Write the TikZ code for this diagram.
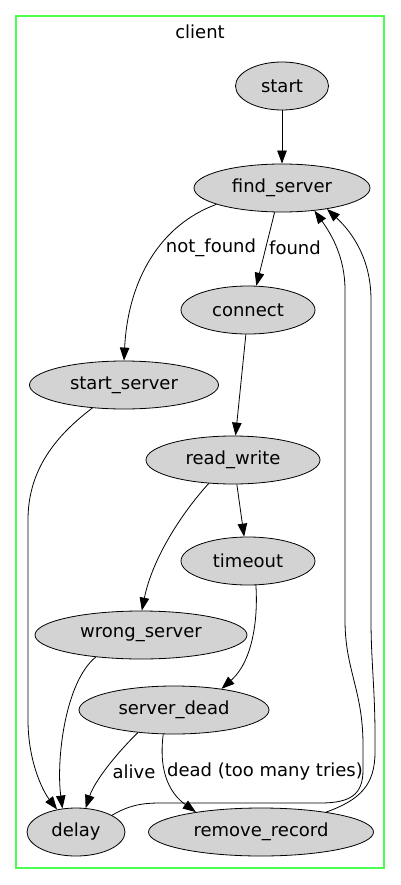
\documentclass[tikz,border=0pt]{standalone}
\usepackage{fontspec}
\setmainfont{DejaVu Sans}
\usetikzlibrary{shapes.geometric,arrows.meta}
\definecolor{nodegray}{HTML}{D3D3D3}
\definecolor{clustergreen}{RGB}{76,255,76}
\begin{document}
\begin{tikzpicture}[x=1pt,y=-1pt,
  state/.style={ellipse,draw=black,fill=nodegray,line width=0.8pt,minimum height=48pt,inner sep=0pt,font=\fontsize{18}{20}\selectfont},
  edge/.style={-{Triangle[length=13pt,width=9.5pt]},line width=0.8pt},
  elabel/.style={font=\fontsize{18}{20}\selectfont,inner sep=0pt},
  cluster/.style={draw=clustergreen,line width=1.6pt}]
\useasboundingbox (0,0) rectangle (400,885);
\draw[cluster] (16,16) rectangle (384,868);
\node[elabel] (cl) at (200,32) {client};

\node[state,minimum width=93pt]  (st) at (282,86)  {start};
\node[state,minimum width=176pt] (fs) at (282,188) {find\_server};
\node[state,minimum width=134pt] (cn) at (248,310) {connect};
\node[state,minimum width=189pt] (ss) at (124,385) {start\_server};
\node[state,minimum width=174pt] (rw) at (233,460) {read\_write};
\node[state,minimum width=134pt] (to) at (248,561) {timeout};
\node[state,minimum width=212pt] (ws) at (141,635) {wrong\_server};
\node[state,minimum width=190pt] (sd) at (174,710) {server\_dead};
\node[state,minimum width=98pt]  (dl) at (76,832)  {delay};
\node[state,minimum width=225pt] (rr) at (261,832) {remove\_record};

\draw[edge] (st.south) -- (fs.north);
\draw[edge] (fs.253) -- (cn.71);
\node[elabel] (lfound) at (295,248) {found};
\draw[edge] (fs.194) .. controls (160,225) and (128,280) .. (ss.north);
\node[elabel] (lnf) at (211,248) {not\_found};
\draw[edge] (cn.265) -- (rw.84);
\draw[edge] (rw.279) -- (to.99);
\draw[edge] (rw.224) .. controls (180,515) and (152,560) .. (ws.88);
\draw[edge] (to.288) .. controls (258,615) and (254,660) .. (sd.24);
\draw[edge] (ss.216) .. controls (50,440) and (28,475) .. (28,520) -- (28,720) .. controls (28,760) and (42,790) .. (dl.130);
\draw[edge] (ws.206) .. controls (65,682) and (56,760) .. (dl.120);
\draw[edge] (sd.212) .. controls (118,752) and (95,780) .. (dl.68);
\node[elabel] (lalive) at (134,772) {alive};
\draw[edge] (sd.246) .. controls (158,775) and (172,795) .. (rr.163);
\node[elabel] (ldead) at (265,772) {dead (too many tries)};
\draw[edge] (dl.25) .. controls (128,806) and (140,803) .. (160,803) -- (320,803) .. controls (350,803) and (363,795) .. (363,770) -- (363,745) .. controls (363,690) and (345,670) .. (345,620) -- (345,290) .. controls (345,258) and (332,235) .. (fs.325);
\draw[edge] (rr.17) .. controls (360,800) and (375,785) .. (375,752) -- (375,735) .. controls (375,690) and (371,660) .. (371,620) -- (371,300) .. controls (371,262) and (355,235) .. (fs.335);
\end{tikzpicture}
\end{document}
